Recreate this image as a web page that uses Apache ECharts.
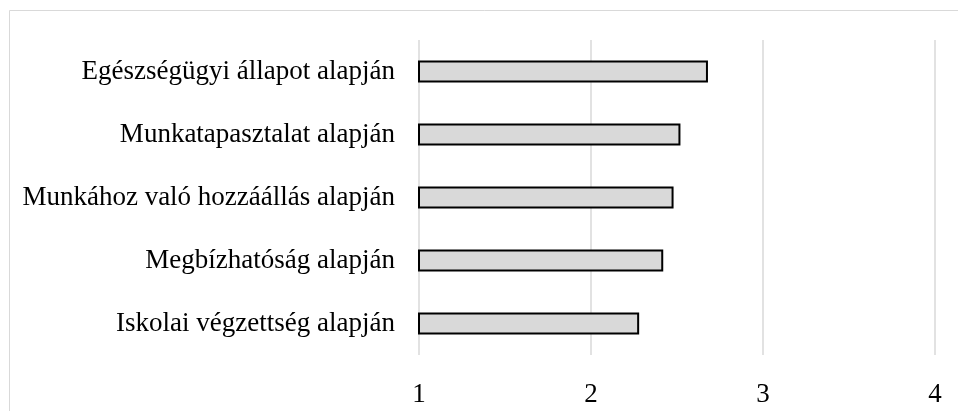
<!DOCTYPE html>
<html><head><meta charset="utf-8">
<script src="https://cdn.jsdelivr.net/npm/echarts@6/dist/echarts.min.js"></script>
<style>html,body{margin:0;padding:0;background:#fff}#c{width:958px;height:411px}</style>
</head><body><div id="c"></div>
<script>
const categories = ["Iskolai végzettség alapján","Megbízhatóság alapján","Munkához való hozzáállás alapján","Munkatapasztalat alapján","Egészségügyi állapot alapján"];
const values = [2.28, 2.42, 2.48, 2.52, 2.68];
const xTicks = [1, 2, 3, 4];

const chart = echarts.init(document.getElementById('c'), null, {renderer:'canvas'});
chart.setOption({
  animation:false,
  backgroundColor:'#fff',
  graphic:[{type:'rect',shape:{x:9.5,y:10.5,width:1000,height:500},style:{fill:'none',stroke:'#d9d9d9',lineWidth:1},silent:true}],
  grid:{left:419,right:23,top:40,bottom:56,containLabel:false},
  xAxis:{type:'value',min:xTicks[0],max:xTicks[xTicks.length-1],interval:1,
    axisLine:{show:false},axisTick:{show:false},
    splitLine:{show:true,lineStyle:{color:'#d9d9d9',width:1.5}},
    axisLabel:{color:'#000',fontFamily:'Liberation Serif',fontSize:27,margin:26}},
  yAxis:{type:'category',data:categories,
    axisLine:{show:false},axisTick:{show:false},
    axisLabel:{color:'#000',fontFamily:'Liberation Serif',fontSize:27,margin:24}},
  series:[{type:'bar',data:values,barWidth:22,
    itemStyle:{color:'#d9d9d9',borderColor:'#000',borderWidth:2}}]
});
</script></body></html>
